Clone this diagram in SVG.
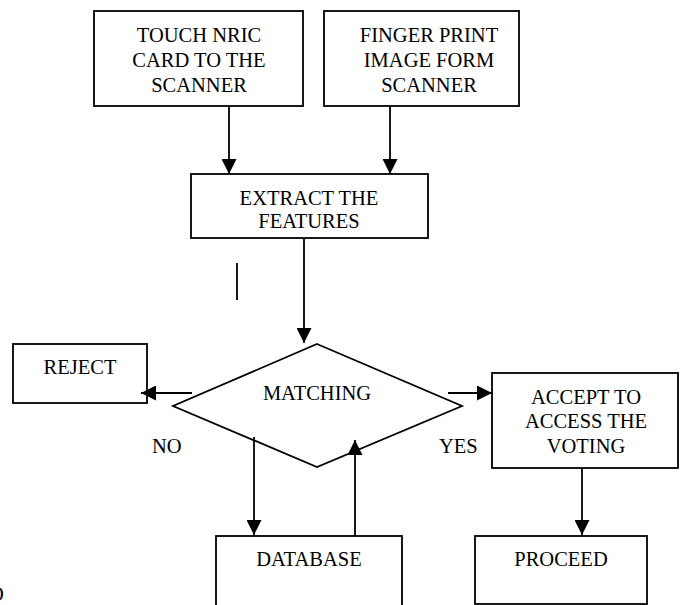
<svg xmlns="http://www.w3.org/2000/svg" width="680" height="605" viewBox="0 0 680 605">
<defs>
<style>
.box{fill:#fff;stroke:#000;stroke-width:1.8}
.t{font-family:"Liberation Serif","Times New Roman",serif;font-size:20.5px;fill:#000;text-anchor:middle}
.tl{font-family:"Liberation Serif","Times New Roman",serif;font-size:20.5px;fill:#000}
.ln{stroke:#000;stroke-width:1.8;fill:none}
</style>
<marker id="ah" viewBox="0 0 15 15" refX="15" refY="7.5" markerWidth="15" markerHeight="15" markerUnits="userSpaceOnUse" orient="auto">
<path d="M0,0 L15,7.5 L0,15 Z" fill="#000"/>
</marker>
</defs>
<rect width="680" height="605" fill="#fff"/>
<g id="touch">
<rect class="box" x="94" y="11" width="209" height="95"/>
<text class="t" x="199" y="42">TOUCH NRIC</text>
<text class="t" x="199" y="67">CARD TO THE</text>
<text class="t" x="199" y="92">SCANNER</text>
</g>
<g id="finger">
<rect class="box" x="324" y="11" width="195" height="95"/>
<text class="t" x="429" y="42">FINGER PRINT</text>
<text class="t" x="429" y="67">IMAGE FORM</text>
<text class="t" x="429" y="92">SCANNER</text>
</g>
<g id="extract">
<rect class="box" x="191" y="174" width="237" height="64"/>
<text class="t" x="309" y="205">EXTRACT THE</text>
<text class="t" x="309" y="228">FEATURES</text>
</g>
<g id="matching">
<polygon class="box" points="317,344 462,406 317,467 173,406"/>
<text class="t" x="317" y="400">MATCHING</text>
</g>
<g id="reject">
<rect class="box" x="13" y="344" width="134" height="59"/>
<text class="t" x="80" y="374">REJECT</text>
</g>
<g id="accept">
<rect class="box" x="492" y="373" width="186" height="95"/>
<text class="t" x="586" y="404">ACCEPT TO</text>
<text class="t" x="586" y="428">ACCESS THE</text>
<text class="t" x="586" y="453">VOTING</text>
</g>
<g id="database">
<rect class="box" x="216" y="536" width="186" height="80"/>
<text class="t" x="309" y="566">DATABASE</text>
</g>
<g id="proceed">
<rect class="box" x="475" y="536" width="172" height="68"/>
<text class="t" x="561" y="566">PROCEED</text>
</g>
<g id="labels">
<text class="tl" x="152" y="453">NO</text>
<text class="tl" x="439" y="453">YES</text>
<text class="tl" x="-11" y="601">O</text>
</g>
<g id="connectors">
<line class="ln" x1="229" y1="106" x2="229" y2="174" marker-end="url(#ah)"/>
<line class="ln" x1="390" y1="106" x2="390" y2="174" marker-end="url(#ah)"/>
<line class="ln" x1="304" y1="238" x2="304" y2="343" marker-end="url(#ah)"/>
<line class="ln" x1="237" y1="263" x2="237" y2="300"/>
<line class="ln" x1="192" y1="393" x2="141" y2="393" marker-end="url(#ah)"/>
<line class="ln" x1="448" y1="393" x2="492" y2="393" marker-end="url(#ah)"/>
<line class="ln" x1="254" y1="437" x2="254" y2="535" marker-end="url(#ah)"/>
<line class="ln" x1="355" y1="536" x2="355" y2="440" marker-end="url(#ah)"/>
<line class="ln" x1="582" y1="468" x2="582" y2="535" marker-end="url(#ah)"/>
</g>
</svg>
